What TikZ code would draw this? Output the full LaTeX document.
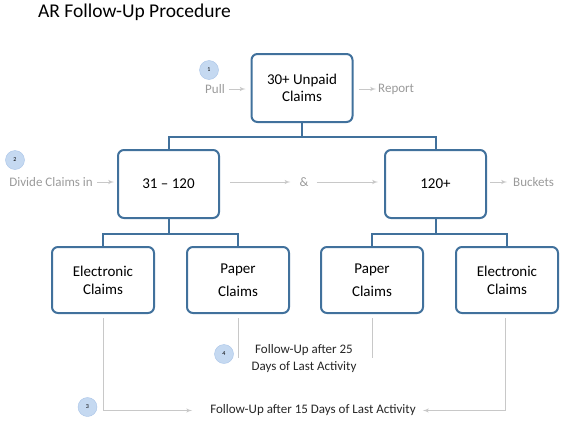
\documentclass[tikz,border=0pt]{standalone}
\usepackage{fontspec}
\setmainfont{Carlito}
\usepackage{tikz}
\usetikzlibrary{shapes,arrows}
\definecolor{boxblue}{HTML}{41719C}
\definecolor{badgefill}{HTML}{C5D9F1}
\definecolor{badgeline}{HTML}{A9C4E8}
\definecolor{hintgray}{HTML}{9A9A9A}
\definecolor{flowgray}{HTML}{C8C8C8}
\tikzstyle{block} = [draw=boxblue, line width=2pt, rectangle, rounded corners=6pt,
    minimum height=68pt, minimum width=101pt, align=center,
    font=\fontsize{15}{17.5}\selectfont]
\tikzstyle{leaf} = [block, minimum height=66pt, minimum width=102pt,
    font=\fontsize{15}{17.7}\selectfont]
\tikzstyle{paper} = [font=\fontsize{15}{23.4}\selectfont]
\tikzstyle{badge} = [draw=badgeline, fill=badgefill, circle, minimum size=19pt,
    inner sep=0pt, font=\fontsize{6}{6}\selectfont]
\tikzstyle{hint} = [text=hintgray, font=\fontsize{13}{15}\selectfont, inner sep=2pt]
\tikzstyle{note} = [text=black!85, font=\fontsize{13}{16.7}\selectfont, align=center, inner sep=2pt]
\tikzstyle{link} = [draw=boxblue, line width=2pt]
\tikzstyle{flow} = [draw=flowgray, line width=1pt]

\begin{document}
\begin{tikzpicture}[x=1pt, y=-1pt, >=latex']
          \useasboundingbox (0,0) rectangle (575,434);
          \node [anchor=base west, inner sep=0pt, font=\fontsize{19.5}{22}\selectfont] (title) at (38,17.5) {AR Follow-Up Procedure};

          % Place the blocks
          \node [block] (top) at (302,88) {30+ Unpaid\\Claims};
          \node [block] (low) at (168.5,184) {31 – 120};
          \node [block, right of=low, node distance=267pt] (high) {120+};
          \node [leaf] (elec1) at (103,280) {Electronic\\Claims};
          \node [leaf, paper, right of=elec1, node distance=135pt] (paper1) {Paper\\Claims};
          \node [leaf, paper, right of=paper1, node distance=134pt] (paper2) {Paper\\Claims};
          \node [leaf, right of=paper2, node distance=135pt] (elec2) {Electronic\\Claims};

          % Step badges
          \node [badge] (s1) at (209,70) {1};
          \node [badge] (s2) at (15,160) {2};
          \node [badge] (s3) at (87.5,407) {3};
          \node [badge] (s4) at (224,354) {4};

          % Side texts
          \node [hint] (pull) at (215,89) {Pull};
          \node [hint, anchor=west] (report) at (376,89) {Report};
          \node [hint, anchor=east] (divide) at (95,182) {Divide Claims in};
          \node [hint] (amp) at (304,182) {\&};
          \node [hint, anchor=west] (buckets) at (511,182) {Buckets};
          \node [note] (fu25) at (304,358.3) {Follow-Up after 25\\Days of Last Activity};
          \node [note] (fu15) at (313,410.5) {Follow-Up after 15 Days of Last Activity};
          \coordinate (p1end) at (238,357.7);
          \coordinate (p2end) at (372,357.7);

          % Connections
          \draw [link] (top.south) -- ++(0,13.5) -| (low.north);
          \draw [link] (top.south) -- ++(0,13.5) -| (high.north);
          \draw [link] (low.south) -- ++(0,14.5) -| (elec1.north);
          \draw [link] (low.south) -- ++(0,14.5) -| (paper1.north);
          \draw [link] (high.south) -- ++(0,14.5) -| (paper2.north);
          \draw [link] (high.south) -- ++(0,14.5) -| (elec2.north);

          % Gray flow
          \draw [flow,->, shorten <=2pt, shorten >=5pt] (pull.east) -- (pull.east -| top.west);
          \draw [flow,->, shorten <=5pt] (report.west -| top.east) -- (report.west);
          \draw [flow,->, shorten <=2pt, shorten >=3pt] (divide.east) -- (divide.east -| low.west);
          \draw [flow,->, shorten <=10pt, shorten >=7pt] (amp.west -| low.east) -- (amp.west);
          \draw [flow,->, shorten <=6pt, shorten >=6pt] (amp.east) -- (amp.east -| high.west);
          \draw [flow,->, shorten <=3pt, shorten >=4pt] (buckets.west -| high.east) -- (buckets.west);
          \draw [flow,->, shorten <=4pt, shorten >=16pt] (elec1.south) |- (fu15.west);
          \draw [flow,->, shorten <=4pt, shorten >=5pt] ([xshift=-2pt]elec2.south) |- (fu15.east);
          \draw [flow, shorten <=4pt] (paper1.south) -- (p1end);
          \draw [flow, shorten <=4pt] (paper2.south) -- (p2end);
      \end{tikzpicture}
\end{document}
